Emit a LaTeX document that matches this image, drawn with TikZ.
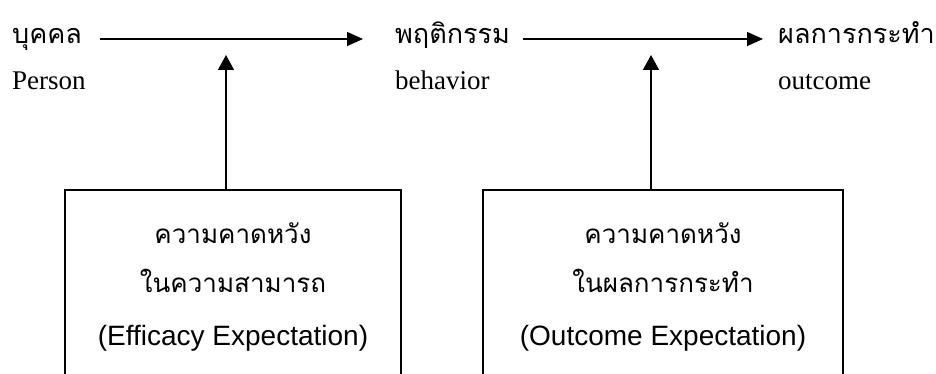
\documentclass[tikz,border=0pt]{standalone}
\usepackage{fontspec}
\setmainfont{Liberation Serif}
\newfontfamily\thaifont[Script=Thai]{Loma}
\newfontfamily\latinsans{Liberation Sans}
\usetikzlibrary{arrows.meta}
\usetikzlibrary{positioning}
\tikzstyle{thaiword} = [inner sep=0pt, anchor=base west, text height=14pt, text depth=4pt,
    font=\thaifont\fontsize{27}{31}\selectfont]
\tikzstyle{engword} = [inner sep=0pt, anchor=base west, font=\fontsize{27}{32}\selectfont]
\tikzstyle{expbox} = [rectangle, draw, line width=1.6pt, outer sep=0pt, anchor=north,
    minimum height=240pt]
\tikzstyle{boxthai} = [inner sep=0pt, anchor=base, font=\thaifont\fontsize{26}{30}\selectfont]
\tikzstyle{boxeng} = [inner sep=0pt, anchor=base, font=\latinsans\fontsize{28}{32}\selectfont]
\tikzstyle{line} = [draw, line width=1.4pt, -{Triangle[length=16pt,width=14pt]}]

\begin{document}
\begin{tikzpicture}[x=1pt,y=-1pt]
    \clip (0,0) rectangle (936,374);
    % Place nodes
    \node[thaiword] (person) at (12,44) {บุคคล};
    \node[thaiword] (behavior) at (395,44) {พฤติกรรม};
    \node[thaiword] (outcome) at (778,44) {ผลการกระทำ};
    \node[engword] (personen) at (12,90) {Person};
    \node[engword] (behavioren) at (395,90) {behavior};
    \node[engword] (outcomeen) at (778,90) {outcome};
    \node[expbox, minimum width=336pt] (efficacy) at (233,190) {};
    \node[boxthai] (efficacya) at ([yshift=-53pt]efficacy.north) {ความคาดหวัง};
    \node[boxthai] (efficacyb) at ([yshift=-102pt]efficacy.north) {ในความสามารถ};
    \node[boxeng] (efficacyc) at ([yshift=-155pt]efficacy.north) {(Efficacy Expectation)};
    \node[expbox, minimum width=360pt] (expect) at (663,190) {};
    \node[boxthai] (expecta) at ([yshift=-53pt]expect.north) {ความคาดหวัง};
    \node[boxthai] (expectb) at ([yshift=-102pt]expect.north) {ในผลการกระทำ};
    \node[boxeng] (expectc) at ([yshift=-155pt]expect.north) {(Outcome Expectation)};
    \coordinate (efftip) at (226,55);
    \coordinate (exptip) at (651,55);
    % Draw edges
    \path [line, shorten <=18pt, shorten >=32pt] (person.east) -- (behavior.west);
    \path [line, shorten <=13pt, shorten >=15pt] (behavior.east) -- (outcome.west);
    \path [line, -{Triangle[length=15pt,width=16pt]}] (efficacy.north -| efftip) -- (efftip);
    \path [line, -{Triangle[length=15pt,width=16pt]}] (expect.north -| exptip) -- (exptip);
\end{tikzpicture}
\end{document}
